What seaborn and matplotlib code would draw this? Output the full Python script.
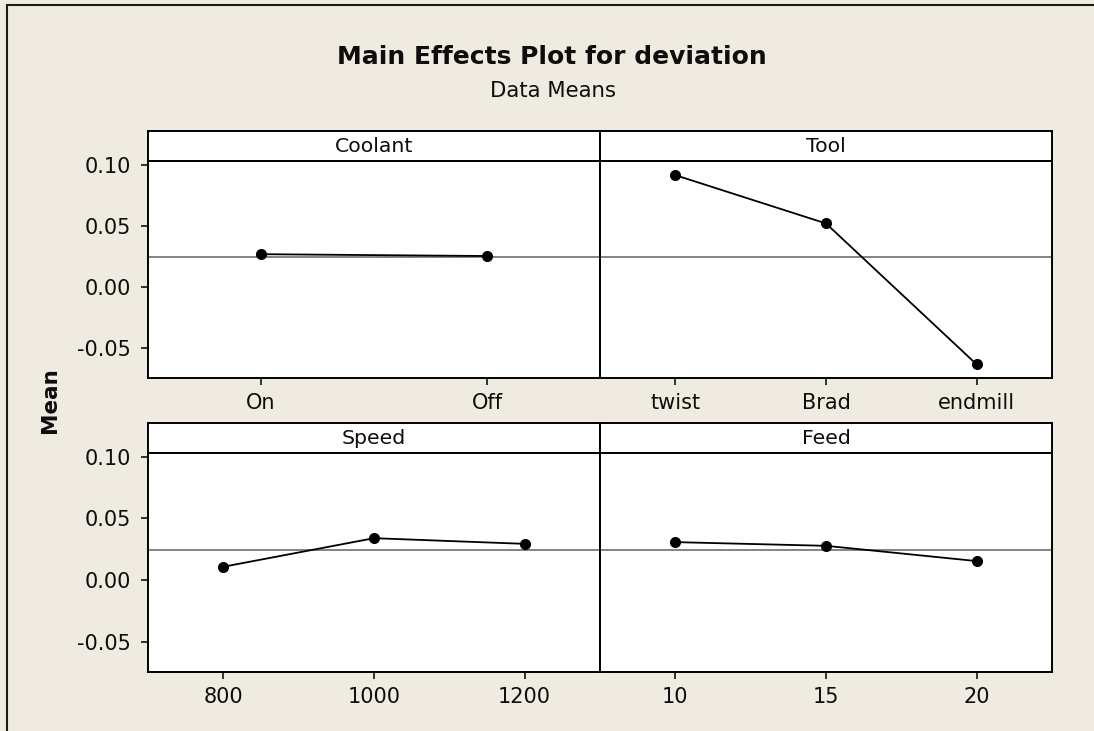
import numpy as np
import pandas as pd
import matplotlib
matplotlib.use("Agg")
import matplotlib.pyplot as plt
import seaborn as sns
from matplotlib.lines import Line2D

# Level means of "deviation" for each factor
coolant_levels = ["On", "Off"]
coolant_means = [0.0268, 0.0253]
tool_levels = ["twist", "Brad", "endmill"]
tool_means = [0.0916, 0.0520, -0.0636]
speed_levels = ["800", "1000", "1200"]
speed_means = [0.0108, 0.0340, 0.0294]
feed_levels = ["10", "15", "20"]
feed_means = [0.0308, 0.0278, 0.0154]
grand_mean = 0.0247

factor_names = ["Coolant", "Tool", "Speed", "Feed"]
factor_levels = [coolant_levels, tool_levels, speed_levels, feed_levels]
factor_means = [coolant_means, tool_means, speed_means, feed_means]

y_ticks = [-0.05, 0.00, 0.05, 0.10]
y_tick_labels = ["-0.05", "0.00", "0.05", "0.10"]

rows = []
for name, levels, means in zip(factor_names, factor_levels, factor_means):
    for lev, m in zip(levels, means):
        rows.append({"factor": name, "level": lev, "mean": m})
df = pd.DataFrame(rows)

sns.set_style("white")
plt.rcParams["font.family"] = ["DejaVu Sans"]

BG = "#EFEBE0"
W, H = 1094, 731
fig = plt.figure(figsize=(W / 100, H / 100), dpi=100, facecolor=BG)


def rect(x0, y0, x1, y1):
    return [x0 / W, 1 - y1 / H, (x1 - x0) / W, (y1 - y0) / H]


# panel geometry in pixels: (left, right, strip_top, strip_bottom, data_bottom)
panels = [
    (148, 600, 131, 161, 378),
    (600, 1052, 131, 161, 378),
    (148, 600, 423, 453, 672),
    (600, 1052, 423, 453, 672),
]

ylim = (-0.0747, 0.1032)
spine_lw = 1.4
TXT = "#0d0d0d"

for i, (name, levels) in enumerate(zip(factor_names, factor_levels)):
    x0, x1, st, sb, db = panels[i]
    ax = fig.add_axes(rect(x0, sb, x1, db))
    ax.set_facecolor("white")
    sub = df[df["factor"] == name]
    ax.axhline(grand_mean, color="#7a7a7a", lw=1.3, zorder=1)
    sns.pointplot(data=sub, x="level", y="mean", order=levels, color="black",
                  markers="o", linestyles="-", errorbar=None, ax=ax,
                  markersize=7, linewidth=1.3)
    ax.set_xlim(-0.5, len(levels) - 0.5)
    ax.set_ylim(*ylim)
    ax.set_xlabel("")
    ax.set_ylabel("")
    ax.set_yticks(y_ticks)
    ax.set_yticklabels(y_tick_labels)
    ax.tick_params(axis="both", direction="out", length=5, width=1.1,
                   color="black", labelsize=15, labelcolor=TXT)
    ax.tick_params(axis="x", pad=6, bottom=True)
    ax.tick_params(axis="y", pad=7, left=(i % 2 == 0), labelleft=(i % 2 == 0))
    for sp in ax.spines.values():
        sp.set_visible(True)
        sp.set_color("black")
        sp.set_linewidth(spine_lw)

    strip = fig.add_axes(rect(x0, st, x1, sb))
    strip.set_facecolor("white")
    strip.set_xticks([])
    strip.set_yticks([])
    for sp in strip.spines.values():
        sp.set_visible(True)
        sp.set_color("black")
        sp.set_linewidth(spine_lw)
    strip.text(0.5, 0.5, name, transform=strip.transAxes, ha="center",
               va="center", fontsize=14.7, color=TXT)

fig.text(552 / W, 1 - 57 / H, "Main Effects Plot for deviation", ha="center",
         va="center", fontsize=18, fontweight="bold", color=TXT)
fig.text(553 / W, 1 - 91 / H, "Data Means", ha="center", va="center",
         fontsize=15.3, color=TXT)
fig.text(50 / W, 1 - 400 / H, "Mean", rotation=90, ha="center", va="center",
         fontsize=15.5, fontweight="bold", color=TXT)

# window frame along the top and left edges
fig.add_artist(Line2D([7 / W, 7 / W], [0, 1 - 5 / H], transform=fig.transFigure,
                      color="#1a1a1a", lw=1.5))
fig.add_artist(Line2D([7 / W, 1], [1 - 5 / H, 1 - 5 / H], transform=fig.transFigure,
                      color="#1a1a1a", lw=1.5))

fig.savefig("out.png", dpi=100, facecolor=BG)
